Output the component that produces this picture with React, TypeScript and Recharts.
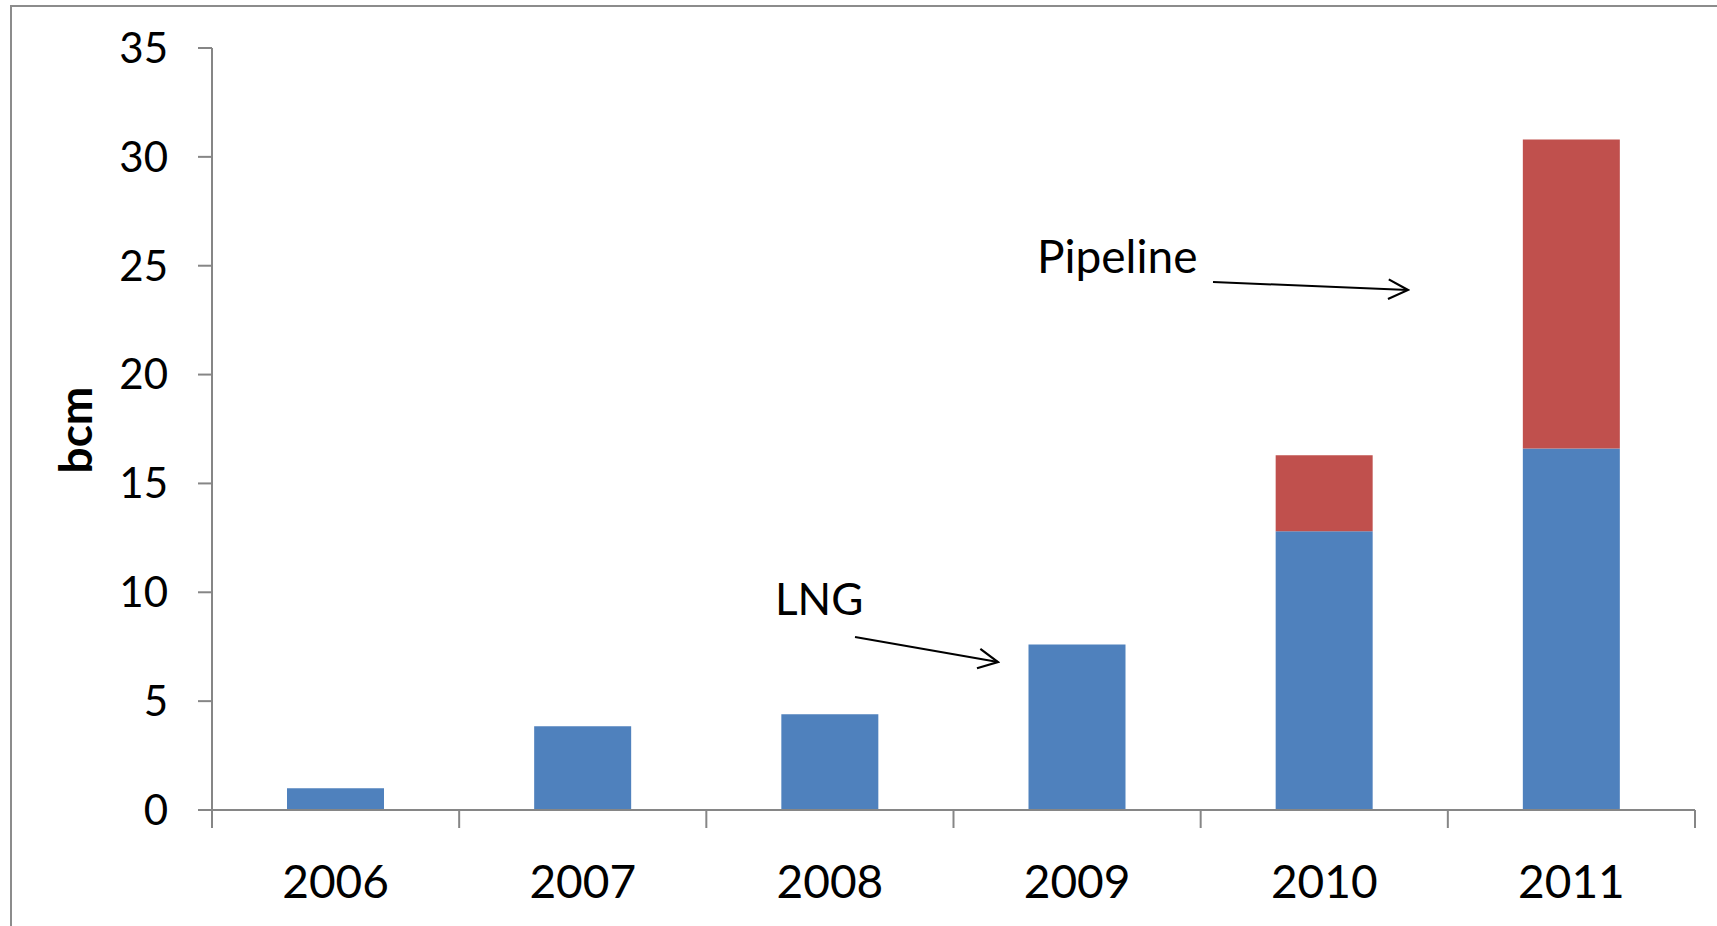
import React from "react";
import { Bar, BarChart, XAxis, YAxis, Customized } from "recharts";

const years = ["2006", "2007", "2008", "2009", "2010", "2011"];
const lngValues = [1.0, 3.85, 4.4, 7.6, 12.8, 16.6];
const pipelineValues = [0, 0, 0, 0, 3.5, 14.2];
const yTicks = [0, 5, 10, 15, 20, 25, 30, 35];

const W = 1717;
const H = 926;
const LEFT = 212;
const RIGHT = 22;
const PLOT_W = W - LEFT - RIGHT;
const AXIS = "#868686";
const FONT = "Lato, 'Open Sans', sans-serif";

const data = years.map((year, i) => ({
  year,
  lng: lngValues[i],
  pipeline: pipelineValues[i],
}));

const band = PLOT_W / years.length;

function YearTick(props: any) {
  const { x, y, payload, index } = props;
  const last = index === years.length - 1;
  return (
    <g>
      <line x1={x - band / 2} x2={x - band / 2} y1={y} y2={y + 18} stroke={AXIS} strokeWidth={2} />
      {last && (
        <line x1={x + band / 2} x2={x + band / 2} y1={y} y2={y + 18} stroke={AXIS} strokeWidth={2} />
      )}
      <text x={x} y={y + 88} textAnchor="middle" fontSize={46} fontFamily={FONT} fill="#000">
        {payload.value}
      </text>
    </g>
  );
}

function Annotations() {
  return (
    <g>
      <defs>
        <marker
          id="arrowOpen"
          markerUnits="userSpaceOnUse"
          markerWidth={24}
          markerHeight={24}
          refX={20}
          refY={10}
          orient="auto"
          viewBox="0 0 22 20"
        >
          <path d="M2,1 L20,10 L2,19" fill="none" stroke="#000" strokeWidth={2} />
        </marker>
      </defs>
      <text x={775} y={615} fontSize={44} fontFamily={FONT} fill="#000">
        LNG
      </text>
      <line x1={855} y1={637} x2={998} y2={662} stroke="#000" strokeWidth={2} markerEnd="url(#arrowOpen)" />
      <text x={1037} y={273} fontSize={46} fontFamily={FONT} fill="#000">
        Pipeline
      </text>
      <line x1={1213} y1={282} x2={1408} y2={290} stroke="#000" strokeWidth={2} markerEnd="url(#arrowOpen)" />
      <text
        transform="translate(92, 430) rotate(-90)"
        textAnchor="middle"
        fontSize={46}
        fontWeight="bold"
        fontFamily={FONT}
        fill="#000"
      >
        bcm
      </text>
    </g>
  );
}

export default function App() {
  return (
    <div
      style={{
        position: "absolute",
        left: 0,
        top: 0,
        width: W,
        height: H,
        overflow: "hidden",
        background: "#fff",
      }}
    >
      <div
        style={{
          position: "absolute",
          left: 10,
          top: 5,
          width: 2400,
          height: 2400,
          border: "2px solid #8c8c8c",
        }}
      />
      <div style={{ position: "absolute", left: 0, top: 0 }}>
        <BarChart
          width={W}
          height={H}
          data={data}
          margin={{ top: 48, right: RIGHT, left: 0, bottom: 0 }}
          barSize={97}
        >
          <XAxis
            dataKey="year"
            height={116}
            interval={0}
            axisLine={{ stroke: AXIS, strokeWidth: 2 }}
            tickLine={false}
            tickSize={0}
            tickMargin={0}
            tick={<YearTick />}
          />
          <YAxis
            width={LEFT}
            domain={[0, 35]}
            ticks={yTicks}
            interval={0}
            axisLine={{ stroke: AXIS, strokeWidth: 2 }}
            tickLine={{ stroke: AXIS, strokeWidth: 2 }}
            tickSize={14}
            tickMargin={30}
            tick={{ fill: "#000", fontSize: 42, fontFamily: FONT }}
          />
          <Bar dataKey="lng" stackId="a" fill="#4F81BD" isAnimationActive={false} />
          <Bar dataKey="pipeline" stackId="a" fill="#C0504D" isAnimationActive={false} />
          <Customized component={Annotations} />
        </BarChart>
      </div>
    </div>
  );
}
